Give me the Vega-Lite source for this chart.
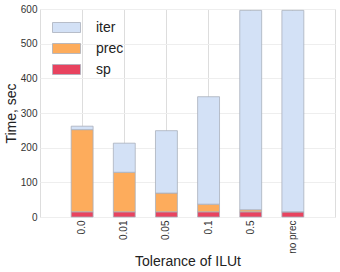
{
  "$schema": "https://vega.github.io/schema/vega-lite/v6.json",
  "width": 295,
  "height": 208,
  "autosize": "none",
  "padding": {"left": 40, "top": 9, "right": 5, "bottom": 55},
  "config": {
    "font": "Liberation Sans",
    "view": {"stroke": "#dddddd", "strokeWidth": 1}
  },
  "data": {
    "values": [
      {"tol": "0.0", "series": "sp", "time": 15},
      {"tol": "0.0", "series": "prec", "time": 237},
      {"tol": "0.0", "series": "iter", "time": 10},
      {"tol": "0.01", "series": "sp", "time": 15},
      {"tol": "0.01", "series": "prec", "time": 114},
      {"tol": "0.01", "series": "iter", "time": 84},
      {"tol": "0.05", "series": "sp", "time": 15},
      {"tol": "0.05", "series": "prec", "time": 54},
      {"tol": "0.05", "series": "iter", "time": 180},
      {"tol": "0.1", "series": "sp", "time": 15},
      {"tol": "0.1", "series": "prec", "time": 22},
      {"tol": "0.1", "series": "iter", "time": 310},
      {"tol": "0.5", "series": "sp", "time": 15},
      {"tol": "0.5", "series": "prec", "time": 6},
      {"tol": "0.5", "series": "iter", "time": 575},
      {"tol": "no prec", "series": "sp", "time": 15},
      {"tol": "no prec", "series": "prec", "time": 0},
      {"tol": "no prec", "series": "iter", "time": 581}
    ]
  },
  "mark": {"type": "bar", "stroke": "#a9b0bd", "strokeWidth": 0.8},
  "encoding": {
    "x": {
      "field": "tol",
      "type": "nominal",
      "sort": null,
      "scale": {"paddingInner": 0.48, "paddingOuter": 0.74},
      "axis": {
        "title": "Tolerance of ILUt",
        "titleFontSize": 14,
        "titleFontWeight": "normal",
        "titleColor": "#222222",
        "titlePadding": 1,
        "labelAngle": -90,
        "labelFontSize": 10,
        "labelColor": "#333333",
        "labelPadding": 3,
        "ticks": false,
        "domain": false,
        "grid": true,
        "bandPosition": 0.5,
        "gridColor": "#dddddd",
        "gridWidth": 1
      }
    },
    "y": {
      "field": "time",
      "type": "quantitative",
      "stack": "zero",
      "scale": {"domain": [0, 600], "nice": false},
      "axis": {
        "title": "Time, sec",
        "titleFontSize": 14,
        "titleFontWeight": "normal",
        "titleColor": "#222222",
        "titlePadding": 2,
        "values": [0, 100, 200, 300, 400, 500, 600],
        "labelFontSize": 10,
        "labelColor": "#333333",
        "labelPadding": 3,
        "ticks": false,
        "domain": false,
        "gridColor": "#eeeeee"
      }
    },
    "color": {
      "field": "series",
      "type": "nominal",
      "scale": {"domain": ["iter", "prec", "sp"], "range": ["#d3e1f6", "#fdac5c", "#e8435f"]},
      "legend": {
        "title": null,
        "orient": "none",
        "legendX": 16,
        "legendY": 8,
        "symbolType": "M-1.4,-0.5H1.4V0.5H-1.4Z",
        "symbolSize": 400,
        "symbolStrokeColor": "#a9b0bd",
        "symbolStrokeWidth": 0.8,
        "symbolOpacity": 1,
        "labelFontSize": 14,
        "labelColor": "#222222",
        "labelOffset": 19,
        "rowPadding": 3
      }
    },
    "order": {"field": "series", "sort": "descending"}
  }
}
